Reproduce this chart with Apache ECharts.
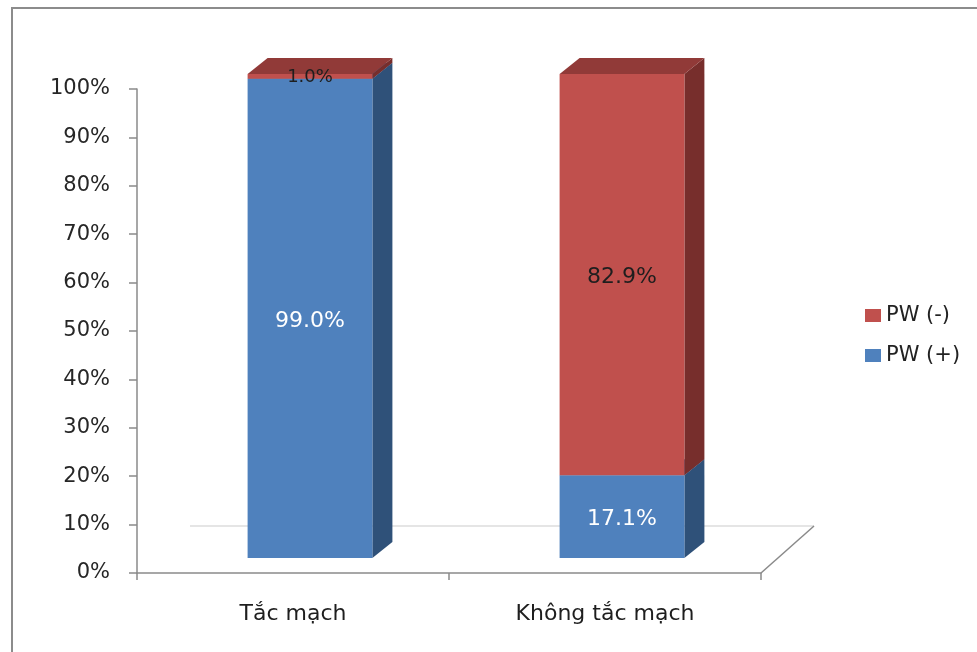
<!DOCTYPE html>
<html>
<head>
<meta charset="utf-8">
<script src="https://cdn.jsdelivr.net/npm/echarts@6/dist/echarts.min.js"></script>
<style>
  html, body { margin: 0; padding: 0; background: #ffffff; }
  #chart { width: 977px; height: 652px; }
</style>
</head>
<body>
<div id="chart"></div>
<script>
// Categories and stacked percentages
const categories = ['Tắc mạch', 'Không tắc mạch'];
const pwPositive = [99.0, 17.1];   // PW (+)
const pwNegative = [1.0, 82.9];    // PW (-)
const yTicks = [0, 10, 20, 30, 40, 50, 60, 70, 80, 90, 100];

// Pseudo-3D geometry (pixels)
const FLOOR_DX = 53, FLOOR_DY = -47;   // depth of the floor
const FRONT_DX = 17, FRONT_DY = -15;   // bar front face set back from the axis plane
const SIDE_DX = 20, SIDE_DY = -16;     // bar thickness

const FONT = 'DejaVu Sans';

const palette = {
  pos: { front: '#4f81bd', side: '#2f5179', top: '#3d6797', text: '#ffffff' },
  neg: { front: '#c0504d', side: '#772e2c', top: '#913a38', text: '#1e1e1e' }
};

function boxRenderer(colors) {
  return function (params, api) {
    const cat = api.value(0), base = api.value(1), val = api.value(2);
    const pBase = api.coord([cat, base]);
    const pTop = api.coord([cat, base + val]);
    const bw = api.size([1, 0])[0] * 0.4;
    const x0 = pBase[0] - bw / 2 + FRONT_DX, x1 = x0 + bw;
    const yb = pBase[1] + FRONT_DY, yt = pTop[1] + FRONT_DY;
    const small = (yb - yt) < 20;
    return {
      type: 'group',
      children: [
        { type: 'polygon',
          shape: { points: [[x1, yb], [x1 + SIDE_DX, yb + SIDE_DY], [x1 + SIDE_DX, yt + SIDE_DY], [x1, yt]] },
          style: { fill: colors.side } },
        { type: 'polygon',
          shape: { points: [[x0, yt], [x1, yt], [x1 + SIDE_DX, yt + SIDE_DY], [x0 + SIDE_DX, yt + SIDE_DY]] },
          style: { fill: colors.top } },
        { type: 'rect',
          shape: { x: x0, y: yt, width: bw, height: yb - yt },
          style: { fill: colors.front } },
        { type: 'text', z2: 10,
          style: {
            text: val.toFixed(1) + '%',
            x: (x0 + x1) / 2, y: (yt + yb) / 2 + (small ? 1 : 3),
            align: 'center', verticalAlign: 'middle',
            fill: colors.text,
            fontSize: small ? 18 : 22,
            fontFamily: FONT
          } }
      ]
    };
  };
}

function floorRenderer(params, api) {
  const cs = params.coordSys;
  const bx = cs.x + cs.width, by = cs.y + cs.height;
  return {
    type: 'group',
    children: [
      { type: 'line',
        shape: { x1: cs.x + FLOOR_DX, y1: by + FLOOR_DY, x2: bx + FLOOR_DX, y2: by + FLOOR_DY },
        style: { stroke: '#dcdcdc', lineWidth: 1.5 } },
      { type: 'line',
        shape: { x1: bx, y1: by, x2: bx + FLOOR_DX, y2: by + FLOOR_DY },
        style: { stroke: '#8a8a8a', lineWidth: 1.5 } }
    ]
  };
}

const chart = echarts.init(document.getElementById('chart'), null, { renderer: 'canvas' });

chart.setOption({
  animation: false,
  backgroundColor: '#ffffff',
  textStyle: { fontFamily: FONT },
  graphic: [{
    type: 'rect', silent: true, z: -10,
    shape: { x: 12, y: 8, width: 1000, height: 700 },
    style: { fill: 'none', stroke: '#8c8c8c', lineWidth: 2 }
  }],
  grid: { left: 137, right: 216, top: 89, bottom: 79 },
  legend: {
    data: ['PW (-)', 'PW (+)'],
    orient: 'vertical',
    left: 860, top: 300,
    icon: 'rect',
    itemWidth: 16, itemHeight: 13,
    itemGap: 19,
    textStyle: { fontSize: 21, color: '#222222', fontFamily: FONT }
  },
  xAxis: {
    type: 'category',
    data: categories,
    axisLine: { lineStyle: { color: '#8a8a8a', width: 1.5 } },
    axisTick: { show: true, length: 7, lineStyle: { color: '#8a8a8a', width: 1.5 } },
    axisLabel: { margin: 30, fontSize: 22, color: '#1e1e1e', fontFamily: FONT },
    splitLine: { show: false }
  },
  yAxis: {
    type: 'value',
    min: yTicks[0], max: yTicks[yTicks.length - 1], interval: 10,
    axisLine: { show: true, lineStyle: { color: '#8a8a8a', width: 1.5 } },
    axisTick: { show: true, length: 8, lineStyle: { color: '#8a8a8a', width: 1.5 } },
    axisLabel: { margin: 27, fontSize: 21, color: '#262626', formatter: '{value}%', fontFamily: FONT },
    splitLine: { show: false }
  },
  series: [
    {
      type: 'custom', name: 'floor', z: 1, silent: true,
      renderItem: floorRenderer,
      data: [[0]]
    },
    {
      type: 'custom', name: 'PW (+)', z: 2,
      itemStyle: { color: palette.pos.front },
      renderItem: boxRenderer(palette.pos),
      encode: { x: 0, y: [1, 2] },
      data: categories.map((c, i) => [i, 0, pwPositive[i]])
    },
    {
      type: 'custom', name: 'PW (-)', z: 3,
      itemStyle: { color: palette.neg.front },
      renderItem: boxRenderer(palette.neg),
      encode: { x: 0, y: [1, 2] },
      data: categories.map((c, i) => [i, pwPositive[i], pwNegative[i]])
    }
  ]
});
</script>
</body>
</html>
